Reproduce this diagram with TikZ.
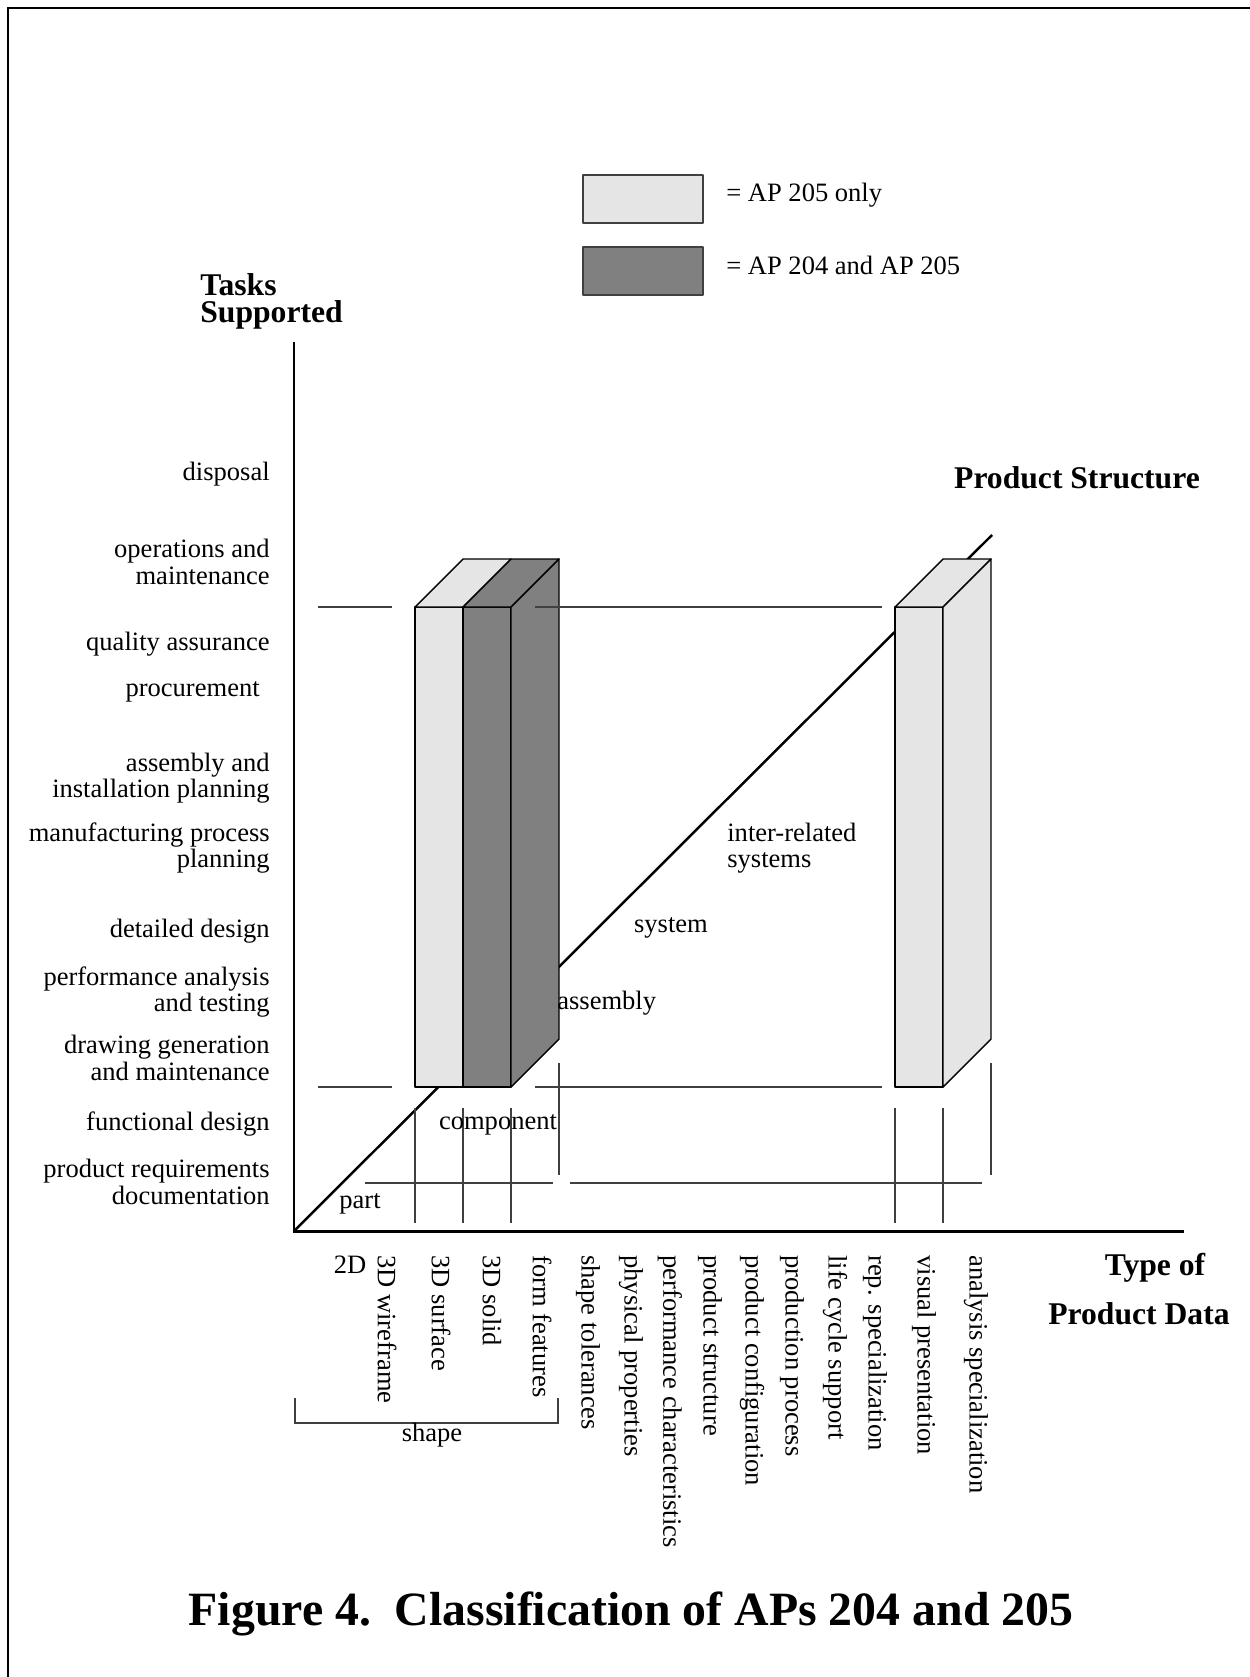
\documentclass[tikz,border=0pt]{standalone}
\usepackage{fontspec}
\setmainfont{Liberation Serif}
\begin{document}
\begin{tikzpicture}[x=0.02cm,y=-0.02cm,
        lbl/.style={font=\fontsize{15.1}{15.2}\selectfont,inner sep=0pt},
        hdr/.style={font=\fontsize{18}{15.8}\selectfont\bfseries,inner sep=0pt},
        gridline/.style={draw=black!75,line width=0.85pt},
        boxedge/.style={draw=black,line width=0.8pt,line join=round},
        light/.style={boxedge,fill=black!10},
        dark/.style={boxedge,fill=black!50}]
    \useasboundingbox (0,0) rectangle (1250,1677);
    % frame
    \draw[line width=1.7pt] (8,1677) -- (8,8) -- (1250,8);
    % legend
    \draw[light,draw=black!75] (583,175) rectangle (703,223);
    \draw[dark,draw=black!75] (583,247) rectangle (703,295);
    \node[lbl,anchor=west] (key1) at (726,195) {= AP 205 only};
    \node[lbl,anchor=west] (key2) at (726,265) {= AP 204 and AP 205};
    % axes
    \draw[line width=1.7pt] (294,342) -- (294,1231) -- (1184,1231);
    \draw[line width=1.4pt] (294,1231) -- (992,535);
    \node[hdr,anchor=base west] (tasks) at (200,295) {Tasks};
    \node[hdr,anchor=base west] (supported) at (200,322) {Supported};
    \node[hdr] (prodstruct) at (1077,478) {Product Structure};
    \node[hdr] (type1) at (1155,1268) {Type of};
    \node[hdr] (type2) at (1139,1314) {Product Data};
    % blocks
    \draw[light] (415,607) rectangle (463,1087);
    \draw[light] (415,607) -- (463,607) -- (511,559) -- (463,559) -- cycle;
    \draw[dark] (463,607) rectangle (511,1087);
    \draw[dark] (463,607) -- (511,607) -- (559,559) -- (511,559) -- cycle;
    \draw[dark] (511,607) -- (559,559) -- (559,1039) -- (511,1087) -- cycle;
    \draw[light] (895,607) rectangle (943,1087);
    \draw[light] (895,607) -- (943,607) -- (991,559) -- (943,559) -- cycle;
    \draw[light] (943,607) -- (991,559) -- (991,1039) -- (943,1087) -- cycle;
    % floor lines
    \foreach \y in {607,1087} {
        \draw[gridline] (318,\y) -- (392,\y);
        \draw[gridline] (535,\y) -- (882,\y);
    }
    \draw[gridline] (365,1183) -- (553,1183);
    \draw[gridline] (570,1183) -- (982,1183);
    \foreach \x in {415,463,511,895,943}
        \draw[gridline] (\x,1108) -- (\x,1223);
    \foreach \x in {559,991}
        \draw[gridline] (\x,1063) -- (\x,1175);
    % product structure levels
    \node[lbl] (part) at (360,1204) {part};
    \node[lbl] (component) at (498,1125) {component};
    \node[lbl,anchor=west] (assembly) at (557,1003) {assembly};
    \node[lbl] (system) at (671,928) {system};
    \node[lbl,anchor=west,align=left] (intersys) at (727,848) {inter-related\\systems};
    % tasks
    \foreach \y/\txt [count=\i] in {474/disposal,
            562/{operations and\\maintenance},
            644/quality assurance,
            778/{assembly and\\installation planning},
            848/{manufacturing process\\planning},
            931/detailed design,
            992/{performance analysis\\and testing},
            1058/{drawing generation\\and maintenance},
            1124/functional design,
            1182/{product requirements\\documentation}}
        \node[lbl,anchor=east,align=right] (task\i) at (270,\y) {\txt};
    \node[lbl,anchor=east] (procure) at (260,692) {procurement};
    % product data types
    \node[lbl] (data0) at (350,1265) {2D};
    \foreach \x/\txt [count=\i] in {387/3D wireframe,441/3D surface,492/3D solid,
            542/form features,588/shape tolerances,631/physical properties,
            670/performance characteristics,710/product structure,
            752/product configuration,792/production process,
            835/life cycle support,875/rep. specialization,
            924/visual presentation,976/analysis specialization}
        \node[lbl,rotate=-90,anchor=west] (data\i) at (\x,1255) {\txt};
    \draw[gridline] (295,1398) -- (295,1423) -- (558,1423) -- (558,1398);
    \node[lbl] (shape) at (432,1435) {shape};
    % caption
    \node[font=\fontsize{27.2}{30}\selectfont\bfseries] (title) at (631,1614)
        {Figure 4.\ \ Classification of APs 204 and 205};
\end{tikzpicture}
\end{document}
